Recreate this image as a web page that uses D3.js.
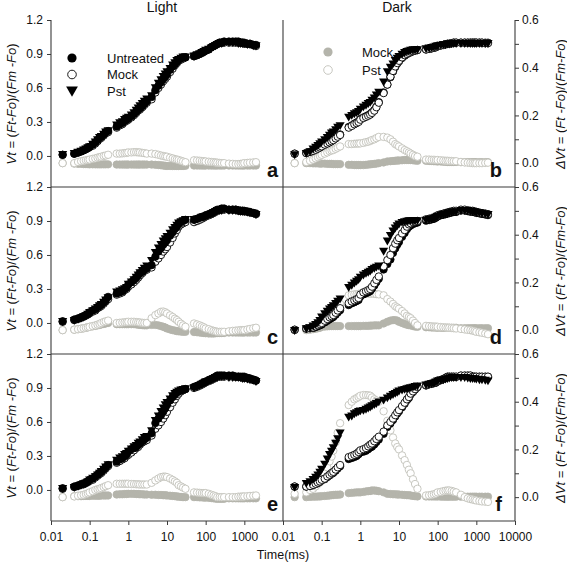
<!DOCTYPE html>
<html><head><meta charset="utf-8">
<script src="https://cdn.jsdelivr.net/npm/d3@7/dist/d3.min.js"></script>
<style>
body{margin:0;background:#fff;}
svg text{font-family:"Liberation Sans",Arial,sans-serif;fill:#111;}
</style></head><body>
<svg id="c" width="567" height="565"></svg>
<script>
// ---- time axis (ms) ----
const times = [
0.02,0.04,0.05,0.06,0.07,0.08,0.09,0.1,0.12,0.14,0.16,0.18,0.2,0.23,0.26,0.3,
0.5,0.6,0.7,0.8,0.9,1,1.2,1.4,1.6,1.8,2,2.3,2.6,3,
4,5,6,7,8,9,10,12,14,16,18,20,23,26,30,
50,60,70,80,90,100,120,140,160,180,200,230,260,300,
400,500,600,700,800,900,1000,1200,1400,1700,2000];

const columnTitles = ["Light","Dark"];
const panelLetters = ["a","b","c","d","e","f"];
const leftTicks = [0,0.3,0.6,0.9,1.2];
const rightTicks = [0,0.1,0.2,0.3,0.4,0.5,0.6];
const xTicksLeft = [0.01,0.1,1,10,100,1000];
const xTicksRight = [0.01,0.1,1,10,100,1000,10000];
const legendLeft = ["Untreated","Mock","Pst"];
const legendRight = ["Mock","Pst"];

// ---- panel a (Light) ----
const untreatedA = [0.01,0.02,0.03,0.04,0.05,0.06,0.07,0.08,0.10,0.12,0.14,0.16,0.17,0.19,0.21,0.22,
0.26,0.28,0.29,0.31,0.32,0.33,0.35,0.37,0.39,0.41,0.42,0.44,0.46,0.48,
0.52,0.58,0.62,0.65,0.68,0.70,0.72,0.76,0.79,0.81,0.83,0.85,0.86,0.87,0.87,
0.88,0.89,0.90,0.91,0.92,0.93,0.94,0.96,0.97,0.98,0.99,1.00,1.00,1.01,
1.01,1.01,1.01,1.01,1.00,1.00,1.00,0.99,0.99,0.98,0.98];
const mockA = [0.01,0.02,0.03,0.04,0.05,0.06,0.07,0.08,0.09,0.11,0.13,0.15,0.16,0.18,0.20,0.21,
0.25,0.27,0.28,0.30,0.31,0.32,0.34,0.36,0.38,0.40,0.41,0.43,0.45,0.47,
0.50,0.56,0.60,0.63,0.66,0.68,0.70,0.74,0.77,0.80,0.82,0.84,0.85,0.86,0.87,
0.88,0.89,0.90,0.91,0.92,0.93,0.94,0.96,0.97,0.98,0.99,1.00,1.00,1.00,
1.00,1.00,1.00,1.00,1.00,1.00,0.99,0.99,0.99,0.98,0.97];
const pstA = [0.02,0.03,0.04,0.05,0.06,0.07,0.08,0.09,0.11,0.13,0.15,0.17,0.18,0.20,0.22,0.23,
0.28,0.30,0.31,0.33,0.34,0.35,0.37,0.39,0.41,0.43,0.45,0.47,0.49,0.51,
0.54,0.61,0.65,0.68,0.71,0.73,0.75,0.78,0.81,0.83,0.85,0.86,0.87,0.88,0.88,
0.89,0.90,0.91,0.92,0.93,0.94,0.95,0.96,0.97,0.98,0.99,1.00,1.00,1.01,
1.01,1.01,1.01,1.00,1.00,1.00,1.00,0.99,0.99,0.98,0.98];
const dMockA = [0.000,-0.002,-0.003,-0.003,-0.004,-0.004,-0.004,-0.005,-0.005,-0.005,-0.005,-0.005,-0.005,-0.005,-0.005,-0.005,
-0.006,-0.006,-0.006,-0.006,-0.006,-0.006,-0.006,-0.006,-0.006,-0.006,-0.006,-0.006,-0.006,-0.006,
-0.006,-0.007,-0.008,-0.009,-0.010,-0.011,-0.012,-0.012,-0.012,-0.012,-0.012,-0.012,-0.012,-0.012,-0.011,
-0.010,-0.010,-0.010,-0.010,-0.010,-0.010,-0.010,-0.010,-0.010,-0.010,-0.010,-0.010,-0.010,-0.010,
-0.010,-0.010,-0.010,-0.010,-0.010,-0.010,-0.010,-0.010,-0.010,-0.010,-0.010];
const dPstA = [0.000,0.000,0.005,0.008,0.010,0.012,0.013,0.015,0.018,0.020,0.023,0.025,0.027,0.030,0.032,0.035,
0.040,0.040,0.041,0.042,0.043,0.045,0.045,0.046,0.046,0.045,0.045,0.043,0.042,0.040,
0.040,0.038,0.035,0.032,0.030,0.028,0.027,0.023,0.020,0.017,0.015,0.013,0.010,0.007,0.004,
0.012,0.011,0.010,0.009,0.008,0.007,0.006,0.005,0.004,0.003,0.002,0.001,0.000,0.000,
-0.002,-0.003,-0.004,-0.004,-0.003,-0.002,0.000,0.001,0.002,0.003,0.004];

// ---- panel b (Dark) ----
const untreatedB = [0.020,0.027,0.037,0.047,0.057,0.067,0.077,0.088,0.100,0.112,0.123,0.133,0.143,0.158,0.173,0.190,
0.255,0.270,0.285,0.295,0.305,0.325,0.340,0.350,0.360,0.370,0.385,0.405,0.435,0.475,
0.560,0.630,0.695,0.745,0.785,0.815,0.835,0.865,0.885,0.900,0.910,0.915,0.925,0.930,0.935,
0.940,0.945,0.950,0.955,0.960,0.970,0.975,0.980,0.985,0.990,0.990,0.995,1.000,1.000,
1.000,1.000,1.000,1.000,1.000,1.000,1.000,1.000,1.000,1.000,1.000];
const mockB = [0.020,0.025,0.035,0.045,0.055,0.065,0.075,0.085,0.100,0.110,0.120,0.130,0.140,0.155,0.170,0.185,
0.250,0.265,0.280,0.290,0.300,0.320,0.335,0.345,0.355,0.365,0.380,0.400,0.430,0.470,
0.555,0.630,0.700,0.750,0.790,0.820,0.840,0.870,0.890,0.900,0.910,0.920,0.925,0.930,0.935,
0.940,0.945,0.950,0.955,0.960,0.970,0.975,0.980,0.985,0.990,0.990,0.995,1.000,1.000,
1.000,1.000,1.000,1.000,1.000,1.000,1.000,1.000,1.000,0.995,0.995];
const pstB = [0.018,0.030,0.045,0.070,0.085,0.100,0.115,0.130,0.150,0.170,0.190,0.210,0.220,0.240,0.260,0.275,
0.350,0.365,0.380,0.390,0.400,0.420,0.440,0.455,0.470,0.480,0.500,0.520,0.545,0.570,
0.660,0.750,0.790,0.820,0.850,0.870,0.885,0.905,0.920,0.930,0.935,0.940,0.945,0.945,0.945,
0.955,0.960,0.965,0.970,0.975,0.980,0.985,0.990,0.990,0.995,0.995,1.000,1.000,1.000,
1.000,1.000,1.000,1.000,1.000,1.000,1.000,1.000,1.000,1.000,1.000];
const dMockB = [0.000,0.000,0.000,-0.001,-0.001,-0.001,-0.002,-0.002,-0.002,-0.003,-0.003,-0.003,-0.004,-0.004,-0.004,-0.004,
-0.007,-0.007,-0.008,-0.008,-0.008,-0.008,-0.008,-0.007,-0.006,-0.005,-0.004,-0.003,-0.002,0.000,
0.003,0.007,0.008,0.009,0.010,0.011,0.011,0.012,0.013,0.013,0.013,0.013,0.012,0.011,0.010,
0.010,0.009,0.009,0.008,0.008,0.007,0.007,0.006,0.006,0.005,0.005,0.005,0.005,0.005,
0.004,0.004,0.004,0.004,0.004,0.004,0.004,0.004,0.004,0.004,0.004];
const dPstB = [0.000,0.005,0.010,0.015,0.020,0.025,0.030,0.035,0.040,0.045,0.050,0.053,0.055,0.060,0.065,0.070,
0.080,0.080,0.081,0.082,0.082,0.083,0.085,0.088,0.090,0.093,0.097,0.100,0.105,0.110,
0.110,0.107,0.100,0.090,0.080,0.075,0.070,0.062,0.055,0.050,0.045,0.040,0.035,0.030,0.027,
0.015,0.015,0.014,0.014,0.013,0.013,0.012,0.011,0.010,0.010,0.009,0.009,0.008,0.008,
0.005,0.003,0.002,0.001,0.000,0.000,0.000,0.000,0.000,0.001,0.002];

// ---- panel c (Light) ----
const untreatedC = [0.015,0.030,0.040,0.050,0.060,0.070,0.080,0.094,0.110,0.120,0.140,0.150,0.160,0.180,0.200,0.230,
0.260,0.270,0.280,0.300,0.310,0.340,0.360,0.380,0.400,0.420,0.440,0.450,0.470,0.480,
0.510,0.585,0.630,0.660,0.690,0.710,0.730,0.770,0.800,0.830,0.850,0.880,0.890,0.900,0.910,
0.910,0.920,0.930,0.935,0.940,0.950,0.960,0.970,0.980,0.990,1.000,1.000,1.010,1.010,
1.000,1.000,1.000,0.995,0.990,0.990,0.990,0.985,0.980,0.970,0.965];
const mockC = [0.010,0.025,0.035,0.045,0.055,0.065,0.075,0.085,0.100,0.110,0.130,0.140,0.150,0.170,0.190,0.210,
0.250,0.260,0.270,0.290,0.300,0.320,0.340,0.360,0.380,0.400,0.420,0.440,0.460,0.470,
0.490,0.540,0.570,0.600,0.630,0.650,0.670,0.710,0.750,0.790,0.820,0.850,0.870,0.880,0.890,
0.890,0.900,0.910,0.920,0.930,0.940,0.950,0.960,0.970,0.980,0.990,1.000,1.000,1.000,
1.000,1.000,1.000,0.990,0.990,0.990,0.985,0.980,0.975,0.970,0.960];
const pstC = [0.020,0.030,0.040,0.050,0.060,0.070,0.085,0.100,0.115,0.130,0.145,0.160,0.170,0.190,0.210,0.230,
0.280,0.290,0.300,0.310,0.320,0.350,0.370,0.390,0.410,0.430,0.450,0.470,0.490,0.510,
0.560,0.630,0.670,0.700,0.730,0.750,0.770,0.800,0.830,0.850,0.870,0.890,0.900,0.910,0.920,
0.920,0.925,0.930,0.940,0.945,0.950,0.960,0.970,0.980,0.990,1.000,1.000,1.000,1.010,
1.000,1.000,1.000,0.995,0.990,0.990,0.990,0.985,0.980,0.975,0.965];
const dMockC = [0.000,0.002,0.004,0.006,0.008,0.010,0.012,0.014,0.016,0.018,0.020,0.022,0.024,0.026,0.028,0.030,
0.025,0.025,0.025,0.025,0.025,0.025,0.025,0.025,0.024,0.023,0.022,0.021,0.020,0.020,
0.022,0.022,0.020,0.017,0.014,0.011,0.007,0.003,0.000,-0.002,-0.004,-0.005,-0.006,-0.007,-0.007,
-0.008,-0.009,-0.010,-0.011,-0.012,-0.013,-0.014,-0.014,-0.014,-0.013,-0.012,-0.012,-0.012,-0.012,
-0.010,-0.010,-0.010,-0.010,-0.010,-0.010,-0.010,-0.010,-0.010,-0.010,-0.010];
const dPstC = [0.000,0.002,0.004,0.006,0.008,0.010,0.012,0.014,0.017,0.020,0.023,0.026,0.030,0.034,0.037,0.040,
0.030,0.031,0.032,0.033,0.034,0.035,0.035,0.035,0.034,0.033,0.032,0.031,0.030,0.030,
0.050,0.063,0.070,0.077,0.078,0.075,0.070,0.062,0.055,0.048,0.042,0.035,0.027,0.020,0.014,
0.028,0.024,0.020,0.016,0.012,0.007,0.004,0.000,-0.003,-0.005,-0.007,-0.007,-0.007,-0.007,
-0.005,-0.003,-0.002,-0.001,0.000,0.000,0.000,0.003,0.005,0.008,0.010];

// ---- panel d (Dark) ----
const untreatedD = [-0.060,-0.050,-0.047,-0.044,-0.036,-0.028,-0.020,-0.014,0.005,0.019,0.033,0.043,0.053,0.073,0.093,0.113,
0.158,0.173,0.183,0.193,0.203,0.233,0.252,0.262,0.272,0.281,0.301,0.330,0.360,0.390,
0.472,0.520,0.560,0.618,0.658,0.690,0.715,0.760,0.794,0.827,0.849,0.860,0.873,0.880,0.886,
0.903,0.908,0.914,0.919,0.929,0.940,0.950,0.955,0.960,0.965,0.970,0.975,0.980,0.980,
0.992,0.992,0.987,0.982,0.982,0.977,0.972,0.967,0.962,0.957,0.952];
const mockD = [-0.060,-0.050,-0.045,-0.040,-0.030,-0.020,-0.010,0.000,0.020,0.035,0.050,0.060,0.070,0.090,0.110,0.130,
0.175,0.190,0.200,0.210,0.220,0.250,0.270,0.280,0.290,0.300,0.320,0.350,0.380,0.410,
0.500,0.555,0.600,0.660,0.700,0.730,0.750,0.790,0.820,0.850,0.870,0.880,0.890,0.895,0.900,
0.915,0.920,0.925,0.930,0.940,0.950,0.960,0.965,0.970,0.975,0.980,0.985,0.990,0.990,
1.000,1.000,0.995,0.990,0.990,0.985,0.980,0.975,0.970,0.965,0.960];
const pstD = [-0.060,-0.044,-0.035,-0.020,-0.005,0.010,0.030,0.060,0.090,0.110,0.130,0.145,0.160,0.180,0.200,0.220,
0.320,0.340,0.360,0.375,0.390,0.410,0.430,0.445,0.455,0.465,0.480,0.490,0.500,0.510,
0.640,0.730,0.780,0.820,0.845,0.865,0.880,0.895,0.900,0.905,0.910,0.910,0.910,0.910,0.910,
0.915,0.920,0.925,0.930,0.940,0.950,0.960,0.965,0.970,0.975,0.980,0.985,0.990,0.990,
1.000,1.000,1.000,0.995,0.990,0.990,0.980,0.980,0.975,0.970,0.965];
const dMockD = [0.000,0.000,0.002,0.004,0.006,0.008,0.010,0.014,0.015,0.016,0.017,0.017,0.017,0.017,0.017,0.017,
0.017,0.017,0.017,0.017,0.017,0.017,0.018,0.018,0.018,0.019,0.019,0.020,0.020,0.020,
0.028,0.035,0.040,0.042,0.042,0.040,0.035,0.030,0.026,0.023,0.021,0.020,0.017,0.015,0.014,
0.012,0.012,0.011,0.011,0.011,0.010,0.010,0.010,0.010,0.010,0.010,0.010,0.010,0.010,
0.008,0.008,0.008,0.008,0.008,0.008,0.008,0.008,0.008,0.008,0.008];
const dPstD = [0.000,0.002,0.005,0.010,0.015,0.020,0.025,0.028,0.040,0.050,0.060,0.065,0.070,0.085,0.100,0.110,
0.146,0.148,0.150,0.151,0.152,0.153,0.153,0.153,0.153,0.153,0.153,0.152,0.151,0.150,
0.146,0.130,0.120,0.110,0.100,0.095,0.090,0.080,0.070,0.060,0.055,0.050,0.040,0.030,0.020,
0.018,0.017,0.016,0.015,0.015,0.014,0.013,0.012,0.011,0.010,0.010,0.009,0.008,0.007,
0.005,0.003,0.001,0.000,-0.002,-0.004,-0.007,-0.009,-0.011,-0.014,-0.017];

// ---- panel e (Light) ----
const untreatedE = [0.015,0.030,0.040,0.050,0.055,0.065,0.075,0.090,0.100,0.120,0.135,0.150,0.160,0.180,0.200,0.220,
0.250,0.270,0.280,0.300,0.310,0.340,0.360,0.370,0.380,0.400,0.410,0.430,0.445,0.460,
0.500,0.590,0.630,0.660,0.690,0.720,0.750,0.790,0.820,0.840,0.860,0.870,0.880,0.885,0.890,
0.910,0.920,0.930,0.940,0.950,0.955,0.970,0.980,0.990,1.000,1.010,1.010,1.010,1.010,
1.010,1.010,1.000,1.000,1.000,1.000,1.000,0.990,0.985,0.975,0.965];
const mockE = [0.010,0.025,0.035,0.045,0.050,0.060,0.070,0.080,0.090,0.110,0.125,0.140,0.150,0.170,0.190,0.210,
0.240,0.255,0.270,0.280,0.300,0.310,0.330,0.350,0.370,0.380,0.400,0.420,0.430,0.440,
0.480,0.540,0.570,0.600,0.630,0.660,0.690,0.730,0.770,0.800,0.830,0.850,0.870,0.880,0.890,
0.900,0.910,0.920,0.930,0.940,0.950,0.960,0.970,0.980,0.990,1.000,1.000,1.000,1.000,
1.000,1.000,1.000,1.000,0.995,0.990,0.990,0.985,0.980,0.970,0.965];
const pstE = [0.020,0.030,0.040,0.050,0.060,0.070,0.080,0.095,0.110,0.125,0.140,0.155,0.170,0.190,0.210,0.230,
0.270,0.290,0.300,0.320,0.330,0.350,0.370,0.390,0.400,0.420,0.430,0.450,0.470,0.480,
0.530,0.620,0.660,0.700,0.730,0.760,0.780,0.810,0.840,0.860,0.870,0.880,0.890,0.895,0.900,
0.910,0.920,0.930,0.940,0.950,0.960,0.970,0.980,0.990,1.000,1.000,1.010,1.010,1.010,
1.000,1.000,1.000,1.000,1.000,0.990,0.990,0.985,0.980,0.975,0.965];
const dMockE = [0.000,0.004,0.004,0.004,0.005,0.005,0.005,0.005,0.006,0.006,0.006,0.006,0.007,0.007,0.007,0.007,
0.011,0.012,0.012,0.013,0.013,0.014,0.014,0.014,0.013,0.013,0.012,0.012,0.011,0.011,
0.010,0.010,0.009,0.009,0.008,0.008,0.007,0.006,0.005,0.004,0.003,0.002,0.001,0.000,0.000,
0.000,0.000,-0.001,-0.001,-0.002,-0.002,-0.003,-0.004,-0.005,-0.006,-0.007,-0.007,-0.007,-0.007,
-0.005,-0.005,-0.005,-0.005,-0.005,-0.005,-0.005,-0.005,-0.005,-0.005,-0.005];
const dPstE = [0.000,0.003,0.006,0.008,0.010,0.013,0.016,0.020,0.025,0.030,0.033,0.035,0.038,0.042,0.046,0.050,
0.056,0.056,0.056,0.056,0.056,0.056,0.055,0.055,0.054,0.054,0.053,0.053,0.053,0.053,
0.060,0.070,0.078,0.084,0.086,0.086,0.084,0.078,0.072,0.066,0.060,0.050,0.045,0.040,0.035,
0.020,0.019,0.018,0.017,0.017,0.017,0.014,0.010,0.007,0.004,0.000,0.000,0.000,0.000,
0.000,0.000,0.000,0.002,0.002,0.003,0.003,0.004,0.005,0.006,0.007];

// ---- panel f (Dark) ----
const untreatedF = [0.030,0.030,0.034,0.043,0.053,0.062,0.072,0.086,0.095,0.114,0.128,0.142,0.151,0.170,0.190,0.209,
0.273,0.282,0.291,0.300,0.315,0.330,0.338,0.346,0.360,0.374,0.382,0.402,0.423,0.445,
0.495,0.556,0.587,0.618,0.648,0.674,0.694,0.730,0.761,0.792,0.812,0.843,0.865,0.886,0.907,
0.922,0.932,0.937,0.942,0.947,0.962,0.968,0.978,0.988,0.998,0.998,0.998,0.998,0.998,
1.008,1.008,1.008,1.008,0.998,0.998,0.998,0.998,0.998,0.998,0.998];
const mockF = [0.030,0.030,0.035,0.045,0.055,0.065,0.075,0.090,0.100,0.120,0.135,0.150,0.160,0.180,0.200,0.220,
0.290,0.300,0.310,0.320,0.335,0.350,0.360,0.370,0.385,0.400,0.410,0.430,0.450,0.470,
0.515,0.570,0.600,0.630,0.660,0.685,0.705,0.740,0.770,0.800,0.820,0.850,0.870,0.890,0.910,
0.925,0.935,0.940,0.945,0.950,0.965,0.970,0.980,0.990,1.000,1.000,1.000,1.000,1.000,
1.010,1.010,1.010,1.010,1.000,1.000,1.000,1.000,1.000,1.000,1.000];
const pstF = [0.030,0.065,0.080,0.100,0.120,0.140,0.165,0.190,0.235,0.280,0.320,0.350,0.380,0.420,0.460,0.510,
0.650,0.660,0.680,0.690,0.700,0.705,0.710,0.720,0.730,0.740,0.750,0.760,0.770,0.785,
0.800,0.820,0.835,0.850,0.860,0.870,0.880,0.890,0.895,0.900,0.905,0.910,0.915,0.920,0.925,
0.935,0.940,0.945,0.950,0.960,0.970,0.975,0.980,0.985,0.990,0.995,1.000,1.000,1.000,
1.000,1.000,0.995,0.990,0.990,0.990,0.985,0.980,0.980,0.975,0.970];
const dMockF = [0.000,0.000,0.001,0.002,0.002,0.003,0.003,0.004,0.005,0.006,0.007,0.008,0.009,0.010,0.010,0.011,
0.017,0.018,0.019,0.020,0.020,0.020,0.022,0.024,0.025,0.026,0.028,0.028,0.027,0.025,
0.020,0.014,0.013,0.012,0.012,0.011,0.011,0.010,0.009,0.008,0.008,0.007,0.005,0.004,0.003,
0.003,0.003,0.003,0.003,0.003,0.003,0.002,0.002,0.002,0.002,0.002,0.002,0.002,0.002,
0.002,0.002,0.002,0.002,0.002,0.002,0.002,0.002,0.002,0.002,0.002];
const dPstF = [0.014,0.020,0.030,0.035,0.045,0.055,0.062,0.070,0.100,0.125,0.150,0.170,0.195,0.230,0.270,0.310,
0.386,0.400,0.410,0.415,0.420,0.425,0.428,0.428,0.427,0.425,0.418,0.410,0.405,0.400,
0.360,0.320,0.280,0.250,0.225,0.210,0.200,0.175,0.155,0.135,0.115,0.100,0.075,0.055,0.035,
0.007,0.008,0.010,0.012,0.015,0.020,0.022,0.025,0.027,0.028,0.028,0.026,0.023,0.020,
0.010,0.000,-0.005,-0.008,-0.010,-0.012,-0.014,-0.016,-0.018,-0.019,-0.020];

// ---- layout ----
const W = 567, H = 565;
const colEdges = [51, 283, 515];
const rowEdges = [20, 187, 354, 521];
const LINE = "#3a3a3a";
const GRAY_FILL = "#b4b4ab";
const GRAY_OPEN = "#c2c2ba";
const R = 3.7;

const panels = [
  {col:0,row:0,U:untreatedA,M:mockA,P:pstA,dM:dMockA,dP:dPstA},
  {col:1,row:0,U:untreatedB,M:mockB,P:pstB,dM:dMockB,dP:dPstB},
  {col:0,row:1,U:untreatedC,M:mockC,P:pstC,dM:dMockC,dP:dPstC},
  {col:1,row:1,U:untreatedD,M:mockD,P:pstD,dM:dMockD,dP:dPstD},
  {col:0,row:2,U:untreatedE,M:mockE,P:pstE,dM:dMockE,dP:dPstE},
  {col:1,row:2,U:untreatedF,M:mockF,P:pstF,dM:dMockF,dP:dPstF}
];

const svg = d3.select("#c");
svg.append("rect").attr("width",W).attr("height",H).attr("fill","#fff");

const tri = d3.symbol().type(d3.symbolTriangle).size(36)();
const triBig = d3.symbol().type(d3.symbolTriangle).size(60)();
const fmt1 = d3.format(".1f");
let bad = [];

panels.forEach((p, i) => {
  const x0 = colEdges[p.col], x1 = colEdges[p.col+1];
  const y0 = rowEdges[p.row], y1 = rowEdges[p.row+1];
  const x = d3.scaleLog().domain([0.01, 10000]).range([x0, x1]);
  const yL = d3.scaleLinear().domain([-0.274, 1.2]).range([y1, y0]);
  const yR = d3.scaleLinear().domain([-0.1, 0.6]).range([y1, y0]);
  ["U","M","P","dM","dP"].forEach(k => { if (p[k].length !== times.length) bad.push(panelLetters[i]+k+":"+p[k].length); });

  const g = svg.append("g");
  const pts = arr => times.map((t, j) => ({t, v: arr[j]})).filter(d => d.v !== undefined);

  g.append("g").selectAll("circle").data(pts(p.dM)).join("circle")
    .attr("cx", d => x(d.t)).attr("cy", d => yR(d.v)).attr("r", R)
    .attr("fill", GRAY_FILL).attr("stroke", GRAY_FILL).attr("stroke-width", 0.8);
  g.append("g").selectAll("circle").data(pts(p.dP)).join("circle")
    .attr("cx", d => x(d.t)).attr("cy", d => yR(d.v)).attr("r", R)
    .attr("fill", "#fff").attr("stroke", GRAY_OPEN).attr("stroke-width", 0.9);

  const drawU = () => g.append("g").selectAll("circle").data(pts(p.U)).join("circle")
    .attr("cx", d => x(d.t)).attr("cy", d => yL(d.v)).attr("r", R)
    .attr("fill", "#000").attr("stroke", "#000").attr("stroke-width", 0.8);
  const drawM = () => g.append("g").selectAll("circle").data(pts(p.M)).join("circle")
    .attr("cx", d => x(d.t)).attr("cy", d => yL(d.v)).attr("r", R)
    .attr("fill", "#fff").attr("stroke", "#000").attr("stroke-width", 0.9);
  if (p.col === 0) { drawM(); drawU(); } else { drawU(); drawM(); }

  g.append("g").selectAll("path").data(pts(p.P)).join("path")
    .attr("d", tri)
    .attr("transform", d => `translate(${x(d.t)},${yL(d.v)}) rotate(180)`)
    .attr("fill", "#000");

  // axes
  if (p.col === 0) {
    const ax = svg.append("g").attr("transform", `translate(${x0},0)`)
      .call(d3.axisLeft(yL).tickValues(leftTicks).tickFormat(fmt1).tickSize(4).tickPadding(4));
    ax.select(".domain").remove();
    ax.selectAll("line").attr("stroke", LINE);
    ax.selectAll("text").attr("font-size", 12).attr("fill", "#111");
  } else {
    const ax = svg.append("g").attr("transform", `translate(${x1},0)`)
      .call(d3.axisRight(yR).tickValues(rightTicks)
        .tickFormat(d => (Math.round(d*10) % 2 === 0) ? fmt1(d) : "").tickSize(4).tickPadding(3));
    ax.select(".domain").remove();
    ax.selectAll("line").attr("stroke", LINE);
    ax.selectAll("text").attr("font-size", 12).attr("fill", "#111");
  }
  if (p.row === 2) {
    const ax = svg.append("g").attr("transform", `translate(0,${y1})`)
      .call(d3.axisBottom(x).tickValues(p.col === 0 ? xTicksLeft : xTicksRight)
        .tickFormat(d => String(d)).tickSize(4).tickPadding(7.5));
    ax.select(".domain").remove();
    ax.selectAll("line").attr("stroke", LINE);
    ax.selectAll("text").attr("font-size", 12).attr("fill", "#111");
  }

  // panel letter
  svg.append("text").attr("x", p.col === 0 ? x1 - 5 : x1 - 13).attr("y", y1 - 10)
    .attr("text-anchor", "end").attr("font-size", 20).attr("font-weight", "bold").text(panelLetters[i]);

  // axis titles
  const yc = y0 + 84;
  if (p.col === 0) {
    const lt = svg.append("text").attr("transform", `translate(16,${yc}) rotate(-90)`)
      .attr("text-anchor", "middle").attr("font-size", 13);
    lt.append("tspan").attr("font-style","italic").text("Vt");
    lt.append("tspan").text(" = (");
    lt.append("tspan").attr("font-style","italic").text("Ft-Fo");
    lt.append("tspan").text(")/(");
    lt.append("tspan").attr("font-style","italic").text("Fm -Fo");
    lt.append("tspan").text(")");
  } else {
    const rt = svg.append("text").attr("transform", `translate(565,${yc}) rotate(-90)`)
      .attr("text-anchor", "middle").attr("font-size", 13);
    rt.append("tspan").attr("font-style","italic").text("ΔVt");
    rt.append("tspan").text(" = (");
    rt.append("tspan").attr("font-style","italic").text("Ft -Fo");
    rt.append("tspan").text(")/(");
    rt.append("tspan").attr("font-style","italic").text("Fm-Fo");
    rt.append("tspan").text(")");
  }
});

// frame lines
const fr = svg.append("g").attr("stroke", LINE).attr("stroke-width", 1.1);
colEdges.forEach(cx => fr.append("line").attr("x1", cx).attr("x2", cx).attr("y1", rowEdges[0]).attr("y2", rowEdges[3]));
rowEdges.slice(1).forEach(ry => fr.append("line").attr("x1", colEdges[0]).attr("x2", colEdges[2]).attr("y1", ry).attr("y2", ry));

// column titles
svg.append("text").attr("x", 162).attr("y", 12).attr("text-anchor", "middle").attr("font-size", 14).text(columnTitles[0]);
svg.append("text").attr("x", 397).attr("y", 12).attr("text-anchor", "middle").attr("font-size", 14).text(columnTitles[1]);
svg.append("text").attr("x", 283).attr("y", 559).attr("text-anchor", "middle").attr("font-size", 12.5).text("Time(ms)");

// legend panel a
const lg = svg.append("g");
lg.append("circle").attr("cx", 72).attr("cy", 58).attr("r", 4.6).attr("fill", "#000");
lg.append("circle").attr("cx", 72).attr("cy", 74.5).attr("r", 4.3).attr("fill", "#fff").attr("stroke", "#000").attr("stroke-width", 0.9);
lg.append("path").attr("d", triBig).attr("transform", "translate(72,90) rotate(180)").attr("fill", "#000");
legendLeft.forEach((s, k) => lg.append("text").attr("x", 107).attr("y", 62.5 + k*16.5).attr("font-size", 13).text(s));
// legend panel b
lg.append("circle").attr("cx", 328).attr("cy", 52).attr("r", 4.6).attr("fill", GRAY_FILL);
lg.append("circle").attr("cx", 328).attr("cy", 70).attr("r", 4.3).attr("fill", "#fff").attr("stroke", GRAY_OPEN).attr("stroke-width", 0.9);
legendRight.forEach((s, k) => lg.append("text").attr("x", 362).attr("y", 57 + k*18).attr("font-size", 13).text(s));

if (bad.length) svg.append("text").attr("x", 60).attr("y", 300).attr("fill", "red").attr("font-size", 14).text("LEN " + bad.join(" "));
</script>
</body></html>
